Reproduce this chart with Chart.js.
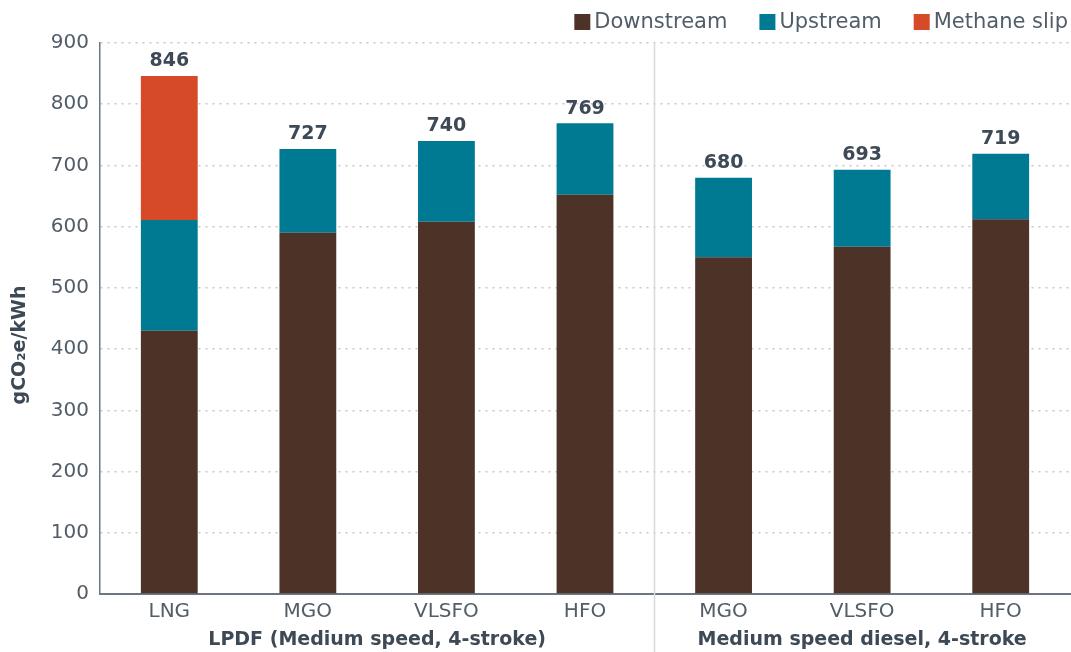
<!DOCTYPE html>
<html>
<head>
<meta charset="utf-8">
<script src="https://cdn.jsdelivr.net/npm/chart.js@4.4.1/dist/chart.umd.min.js"></script>
<style>
html,body{margin:0;padding:0;background:#fff;}
#wrap{width:1071px;height:652px;position:relative;}
</style>
</head>
<body>
<div id="wrap"><canvas id="c"></canvas></div>
<script>
const categories = ["LNG", "MGO", "VLSFO", "HFO", "MGO", "VLSFO", "HFO"];
const groupLabels = ["LPDF (Medium speed, 4-stroke)", "Medium speed diesel, 4-stroke"];
const groupSizes = [4, 3];
const downstream = [430, 590, 608, 652, 550, 567, 612];
const upstream = [181, 137, 132, 117, 130, 126, 107];
const methaneSlip = [235, 0, 0, 0, 0, 0, 0];
const totals = [846, 727, 740, 769, 680, 693, 719];
const yTicks = [0, 100, 200, 300, 400, 500, 600, 700, 800, 900];

const textColor = '#525d68';
const darkText = '#3d4955';
const fontFam = '"DejaVu Sans", "Open Sans", sans-serif';

const extras = {
  id: 'extras',
  beforeDatasetsDraw(chart) {
    // group separator line
    const ctx = chart.ctx;
    const x = chart.scales.x;
    const area = chart.chartArea;
    const step = x.getPixelForValue(1) - x.getPixelForValue(0);
    let start = 0;
    ctx.save();
    groupSizes.forEach((n, g) => {
      if (g > 0) {
        const x0 = Math.round(x.getPixelForValue(start) - step / 2) + 0.5;
        ctx.strokeStyle = '#d9d9d9';
        ctx.lineWidth = 1.5;
        ctx.beginPath();
        ctx.moveTo(x0, area.top);
        ctx.lineTo(x0, 652);
        ctx.stroke();
      }
      start += n;
    });
    ctx.restore();
  },
  afterDatasetsDraw(chart) {
    const ctx = chart.ctx;
    const x = chart.scales.x;
    const step = x.getPixelForValue(1) - x.getPixelForValue(0);
    ctx.save();
    // totals above bars
    ctx.font = 'bold 19px ' + fontFam;
    ctx.fillStyle = darkText;
    ctx.textAlign = 'center';
    ctx.textBaseline = 'bottom';
    categories.forEach((c, i) => {
      let top = Infinity;
      chart.data.datasets.forEach((ds, d) => {
        if (ds.data[i] > 0) top = Math.min(top, chart.getDatasetMeta(d).data[i].y);
      });
      ctx.fillText(String(totals[i]), x.getPixelForValue(i), top - 5);
    });
    // group labels
    let start = 0;
    ctx.font = 'bold 19px ' + fontFam;
    ctx.fillStyle = darkText;
    ctx.textBaseline = 'middle';
    groupSizes.forEach((n, g) => {
      const x0 = x.getPixelForValue(start) - step / 2;
      const x1 = x.getPixelForValue(start + n - 1) + step / 2;
      ctx.fillText(groupLabels[g], (x0 + x1) / 2, 640);
      start += n;
    });
    // legend (right aligned, compact)
    ctx.font = '21px ' + fontFam;
    ctx.textAlign = 'left';
    ctx.textBaseline = 'middle';
    const items = chart.data.datasets.map(ds => ({ label: ds.label, color: ds.backgroundColor }));
    const box = 16, gapBox = 4, gapItem = 32, ly = 22;
    let total = 0;
    items.forEach((it, k) => { it.w = ctx.measureText(it.label).width; total += box + gapBox + it.w + (k ? gapItem : 0); });
    let lx = 1068 - total;
    items.forEach((it, k) => {
      if (k) lx += gapItem;
      ctx.fillStyle = it.color;
      ctx.fillRect(lx, ly - box / 2, box, box);
      ctx.fillStyle = textColor;
      ctx.fillText(it.label, lx + box + gapBox, ly + 1);
      lx += box + gapBox + it.w;
    });
    ctx.restore();
  }
};

new Chart(document.getElementById('c'), {
  type: 'bar',
  data: {
    labels: categories,
    datasets: [
      { label: 'Downstream', data: downstream, backgroundColor: '#4d3228' },
      { label: 'Upstream', data: upstream, backgroundColor: '#007a92' },
      { label: 'Methane slip', data: methaneSlip, backgroundColor: '#d74a28' }
    ]
  },
  options: {
    responsive: true,
    maintainAspectRatio: false,
    animation: false,
    layout: { padding: { top: 43, right: 1, left: 0, bottom: 0 } },
    datasets: { bar: { categoryPercentage: 1, barPercentage: 0.41, borderWidth: 0 } },
    plugins: {
      tooltip: { enabled: false },
      legend: { display: false }
    },
    scales: {
      x: {
        stacked: true,
        grid: { display: false, drawTicks: false },
        border: { color: '#6b7680', width: 2 },
        ticks: { color: textColor, font: { size: 20, family: fontFam }, padding: 6 },
        afterFit(s) { s.height = 58; }
      },
      y: {
        stacked: true,
        min: 0, max: 900,
        afterBuildTicks(s) { s.ticks = yTicks.map(v => ({ value: v })); },
        grid: { color: '#c8c8c8', lineWidth: 1.5, drawTicks: false },
        border: { color: '#6b7680', width: 1.5, dash: [2, 5] },
        ticks: { color: textColor, font: { size: 20, family: fontFam }, padding: 11 },
        title: { display: true, text: 'gCO₂e/kWh        ', color: darkText, font: { size: 19, weight: 'bold', family: fontFam }, padding: { top: 9, bottom: 0 } },
        afterFit(s) { s.width = 100; }
      }
    }
  },
  plugins: [extras]
});
</script>
</body>
</html>
